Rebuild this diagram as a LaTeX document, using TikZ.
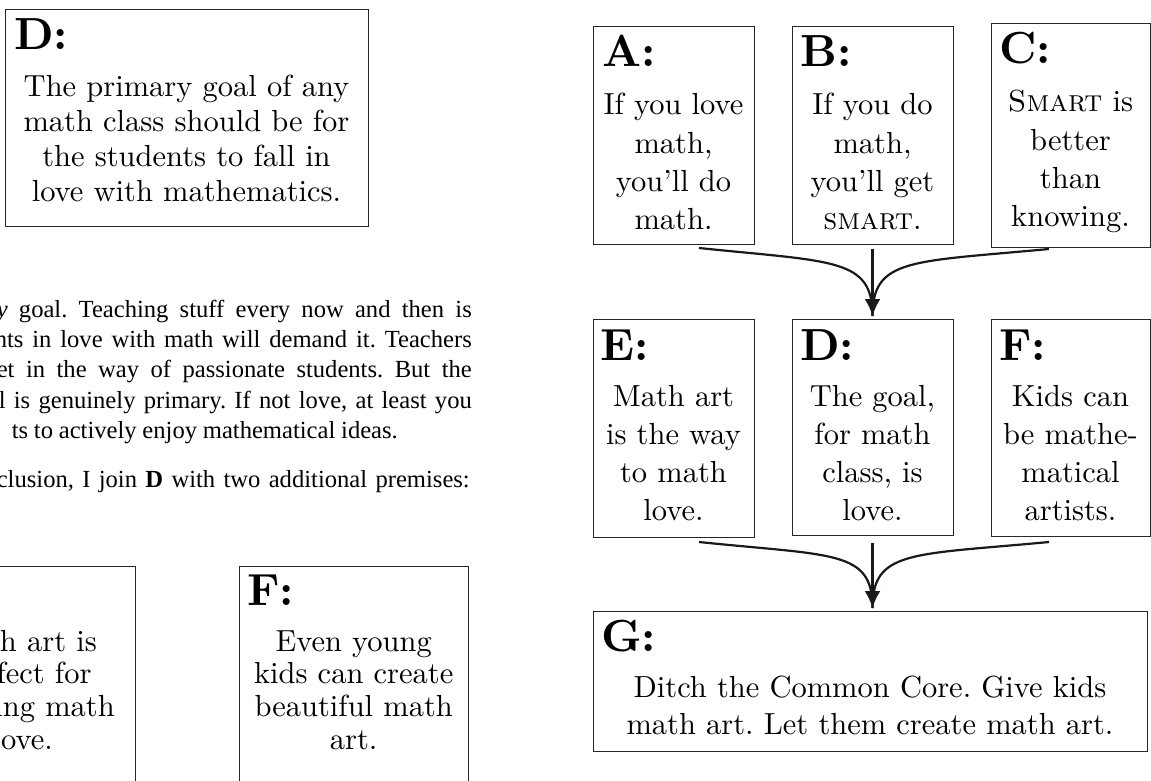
\documentclass[tikz,border=0pt]{standalone}
\usepackage{fontspec}
\setmainfont{lmroman10-regular.otf}[BoldFont=lmroman10-bold.otf, ItalicFont=lmroman10-italic.otf, BoldItalicFont=lmroman10-bolditalic.otf, SmallCapsFont=lmromancaps10-regular.otf]
\newfontfamily\parafont{Liberation Serif}
\usetikzlibrary{arrows.meta,calc}
\begin{document}
\frenchspacing
\begin{tikzpicture}[x=1pt,y=-1pt,
  box/.style={draw=black!85, line width=1pt, inner sep=0pt, outer sep=0pt, anchor=north west, rectangle},
  lab/.style={inner sep=0pt, anchor=base west, font=\fontsize{45}{54}\selectfont\bfseries},
  body/.style={inner sep=0pt, anchor=base, font=\fontsize{30.5}{38.3}\selectfont},
  lbody/.style={inner sep=0pt, anchor=base, font=\fontsize{30.5}{34.8}\selectfont},
  frag/.style={inner sep=0pt, anchor=base east, font=\fontsize{30.5}{34.5}\selectfont},
  para/.style={inner sep=0pt, anchor=base east, font=\parafont\fontsize{24.6}{30.4}\selectfont},
  conn/.style={line width=2.2pt, black!90}
]
\useasboundingbox (0,0) rectangle (1151,781);
\clip (0,0) rectangle (1151,781);

% ---------- left page fragment ----------
\node[box, minimum width=363pt, minimum height=216pt] (LD) at (5,10) {};
\node[lab] (LDlab) at (14,50) {D:};
\node[lbody] (LDtxt) at (186.5,97) {\parbox[t]{350pt}{\centering The primary goal of any\\math class should be for\\the students to fall in\\love with mathematics.}};

\node[para] (p1) at (472,317) {\makebox[475pt][s]{\textit{y} goal. Teaching stuff every now and then is}};
\node[para] (p2) at (472,347.3) {\makebox[477pt][s]{nts in love with math will demand it. Teachers}};
\node[para] (p3) at (472,377.6) {\makebox[475pt][s]{et in the way of passionate students. But the}};
\node[para] (p4) at (472,408) {\makebox[473pt][s]{l is genuinely primary. If not love, at least you}};
\node[para] (p5) at (398,438.3) {\makebox[386pt][s]{ts to actively enjoy mathematical ideas.}};
\node[para] (p6) at (470,487) {\makebox[473pt][s]{clusion, I join \textbf{D} with two additional premises:}};

\node[box, minimum width=228.7pt, minimum height=240pt] (LE) at (-93,566) {};
\node[frag] (LE1) at (97,651) {h art is};
\node[frag] (LE2) at (91.7,683.7) {fect for};
\node[frag] (LE3) at (115,716.4) {ing math};
\node[frag] (LE4) at (53,749.1) {ove.};

\node[box, minimum width=228.7pt, minimum height=240pt] (LF) at (239.3,566) {};
\node[lab] (LFlab) at (247,605) {F:};
\node[lbody, font=\fontsize{30.5}{32.7}\selectfont] (LFtxt) at (353.7,651) {\parbox[t]{220pt}{\centering Even young\\kids can create\\beautiful math\\art.}};

% ---------- right diagram ----------
\node[box, minimum width=161pt, minimum height=217pt] (A) at (593,27) {};
\node[box, minimum width=161pt, minimum height=217pt] (B) at (792,27) {};
\node[box, minimum width=159pt, minimum height=223pt] (C) at (991,24) {};
\node[box, minimum width=161pt, minimum height=218pt] (E) at (593,319) {};
\node[box, minimum width=161pt, minimum height=216pt] (Dm) at (792,319) {};
\node[box, minimum width=159pt, minimum height=217pt] (F) at (991,319) {};
\node[box, minimum width=554pt, minimum height=140pt] (G) at (593,611) {};

\node[lab] (Alab) at (602,67) {A:};
\node[lab] (Blab) at (800,67) {B:};
\node[lab] (Clab) at (999,64) {C:};
\node[lab] (Elab) at (600,360) {E:};
\node[lab] (Dlab) at (800,360) {D:};
\node[lab] (Flab) at (999,360) {F:};
\node[lab] (Glab) at (601,651) {G:};

\node[body] (Atxt) at (673.5,115) {\parbox[t]{160pt}{\centering If you love\\math,\\you’ll do\\math.}};
\node[body] (Btxt) at (872.5,115) {\parbox[t]{160pt}{\centering If you do\\math,\\you’ll get\\\textsc{smart}.}};
\node[body] (Ctxt) at (1070.5,112) {\parbox[t]{158pt}{\centering \textsc{Smart} is\\better\\than\\knowing.}};
\node[body] (Etxt) at (673.5,406) {\parbox[t]{160pt}{\centering Math art\\is the way\\to math\\love.}};
\node[body] (Dtxt) at (872.5,406) {\parbox[t]{160pt}{\centering The goal,\\for math\\class, is\\love.}};
\node[body] (Ftxt) at (1070.5,406) {\parbox[t]{158pt}{\centering Kids can\\be mathe-\\matical\\artists.}};
\node[body, font=\fontsize{30.5}{37.5}\selectfont] (Gtxt) at (870,697) {\parbox[t]{550pt}{\centering Ditch the Common Core. Give kids\\math art. Let them create math art.}};

% connectors, top group
\coordinate (a1) at ($(A.south)+(25.5,4)$);
\coordinate (b1) at ($(B.south)+(0,5)$);
\coordinate (c1) at ($(C.south)+(-21.5,2)$);
\coordinate (t1) at ($(B.south |- Dm.north)+(0,-3)$);
\draw[conn] (a1) .. controls +(135,14) and +(0,-58) .. (t1);
\draw[conn] (c1) .. controls +(-138,13) and +(0,-58) .. (t1);
\draw[conn,-{Latex[length=17pt,width=16pt]}] (b1) -- (t1);

% connectors, bottom group
\coordinate (a2) at ($(E.south)+(25.5,5)$);
\coordinate (b2) at ($(Dm.south)+(0,8)$);
\coordinate (c2) at ($(F.south)+(-21.5,6)$);
\coordinate (t2) at ($(Dm.south |- G.north)+(0,-3)$);
\draw[conn] (a2) .. controls +(135,14) and +(0,-58) .. (t2);
\draw[conn] (c2) .. controls +(-138,13) and +(0,-58) .. (t2);
\draw[conn,-{Latex[length=17pt,width=16pt]}] (b2) -- (t2);
\end{tikzpicture}
\end{document}
